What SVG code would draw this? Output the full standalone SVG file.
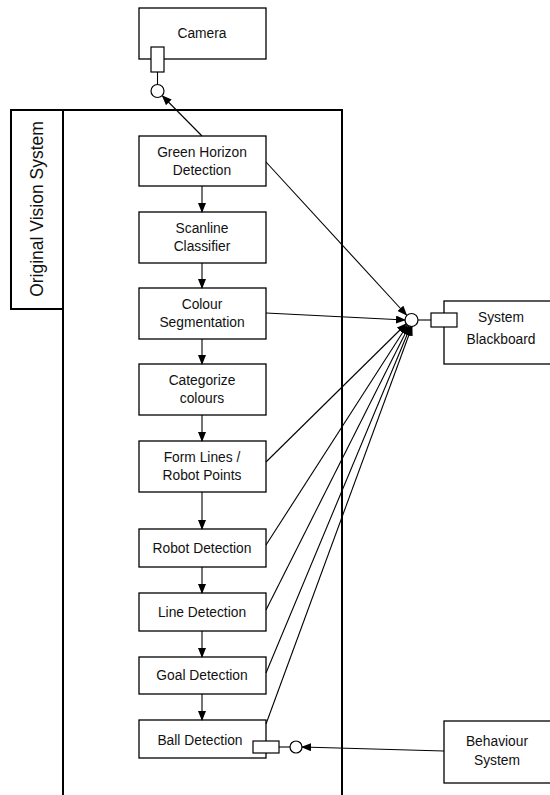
<svg xmlns="http://www.w3.org/2000/svg" width="550" height="795" viewBox="0 0 550 795">
<style>
.box{fill:#fff;stroke:#000;stroke-width:1.3}
.frame{fill:none;stroke:#000;stroke-width:2}
.t{font-family:"Liberation Sans",Arial,sans-serif;font-size:13.8px;fill:#111;text-anchor:middle}
.c{stroke:#000;stroke-width:1.1;fill:none}
.a{stroke:#000;stroke-width:1.1;fill:none;marker-end:url(#ah)}
.port{fill:#fff;stroke:#000;stroke-width:1.2}
</style>
<defs>
<marker id="ah" markerWidth="10" markerHeight="8" refX="9" refY="4" orient="auto" markerUnits="userSpaceOnUse">
<path d="M0,0 L10,4 L0,8 z" fill="#000"/>
</marker>
</defs>
<rect width="550" height="795" fill="#fff"/>

<g id="frame">
<path class="frame" d="M63,795 V110 H342 V795"/>
<rect class="frame" x="11" y="110" width="52" height="199"/>
<text x="0" y="0" transform="translate(43,209) rotate(-90)" style="font-family:'Liberation Sans',Arial,sans-serif;font-size:17.5px;text-anchor:middle;fill:#111">Original Vision System</text>
</g>

<g id="camera">
<rect class="box" x="139" y="8" width="127" height="51"/>
<text class="t" x="202" y="38">Camera</text>
<line class="c" x1="157.5" y1="72" x2="157.5" y2="84.5"/>
<rect class="port" x="151" y="47" width="13" height="25"/>
<circle class="port" cx="157.5" cy="91" r="6.5"/>
</g>

<g id="green-horizon">
<rect class="box" x="139" y="136" width="127" height="50"/>
<text class="t" x="202" y="157">Green Horizon</text>
<text class="t" x="202" y="175">Detection</text>
</g>
<g id="scanline">
<rect class="box" x="139" y="212" width="127" height="51"/>
<text class="t" x="202" y="233">Scanline</text>
<text class="t" x="202" y="251">Classifier</text>
</g>
<g id="colour-seg">
<rect class="box" x="139" y="288" width="127" height="51"/>
<text class="t" x="202" y="309">Colour</text>
<text class="t" x="202" y="327">Segmentation</text>
</g>
<g id="categorize">
<rect class="box" x="139" y="364" width="127" height="51"/>
<text class="t" x="202" y="385">Categorize</text>
<text class="t" x="202" y="403">colours</text>
</g>
<g id="form-lines">
<rect class="box" x="139" y="441" width="127" height="51"/>
<text class="t" x="202" y="462">Form Lines /</text>
<text class="t" x="202" y="480">Robot Points</text>
</g>
<g id="robot-det">
<rect class="box" x="139" y="529" width="127" height="38"/>
<text class="t" x="202" y="553">Robot Detection</text>
</g>
<g id="line-det">
<rect class="box" x="139" y="593" width="127" height="38"/>
<text class="t" x="202" y="617">Line Detection</text>
</g>
<g id="goal-det">
<rect class="box" x="139" y="657" width="127" height="37"/>
<text class="t" x="202" y="680">Goal Detection</text>
</g>
<g id="ball-det">
<rect class="box" x="139" y="720" width="127" height="38"/>
<text class="t" x="200" y="745">Ball Detection</text>
<line class="c" x1="279" y1="747" x2="290" y2="747"/>
<rect class="port" x="253" y="741" width="26" height="12"/>
<circle class="port" cx="296" cy="747" r="6"/>
</g>

<g id="blackboard">
<rect class="box" x="444" y="301" width="116" height="63"/>
<text class="t" x="501" y="322">System</text>
<text class="t" x="501" y="344">Blackboard</text>
<line class="c" x1="418" y1="320" x2="431" y2="320"/>
<rect class="port" x="431" y="313" width="26" height="14"/>
<circle class="port" cx="411.5" cy="320" r="6.5"/>
</g>

<g id="behaviour">
<rect class="box" x="444" y="721" width="116" height="62"/>
<text class="t" x="497" y="746">Behaviour</text>
<text class="t" x="497" y="765">System</text>
</g>

<g id="connectors">
<line class="a" x1="202" y1="136" x2="162.5" y2="96"/>
<line class="a" x1="202" y1="186" x2="202" y2="212"/>
<line class="a" x1="202" y1="263" x2="202" y2="288"/>
<line class="a" x1="202" y1="339" x2="202" y2="364"/>
<line class="a" x1="202" y1="415" x2="202" y2="441"/>
<line class="a" x1="202" y1="492" x2="202" y2="529"/>
<line class="a" x1="202" y1="567" x2="202" y2="593"/>
<line class="a" x1="202" y1="631" x2="202" y2="657"/>
<line class="a" x1="202" y1="694" x2="202" y2="720"/>
<line class="a" x1="266" y1="162" x2="406.5" y2="315"/>
<line class="a" x1="266" y1="313" x2="405" y2="320"/>
<line class="a" x1="266" y1="462" x2="406" y2="324"/>
<line class="a" x1="266" y1="545" x2="407.5" y2="325"/>
<line class="a" x1="266" y1="610" x2="409" y2="326"/>
<line class="a" x1="266" y1="673" x2="410.5" y2="326.5"/>
<line class="a" x1="266" y1="724" x2="412" y2="326.5"/>
<line class="a" x1="444" y1="751" x2="302" y2="747"/>
</g>
</svg>
